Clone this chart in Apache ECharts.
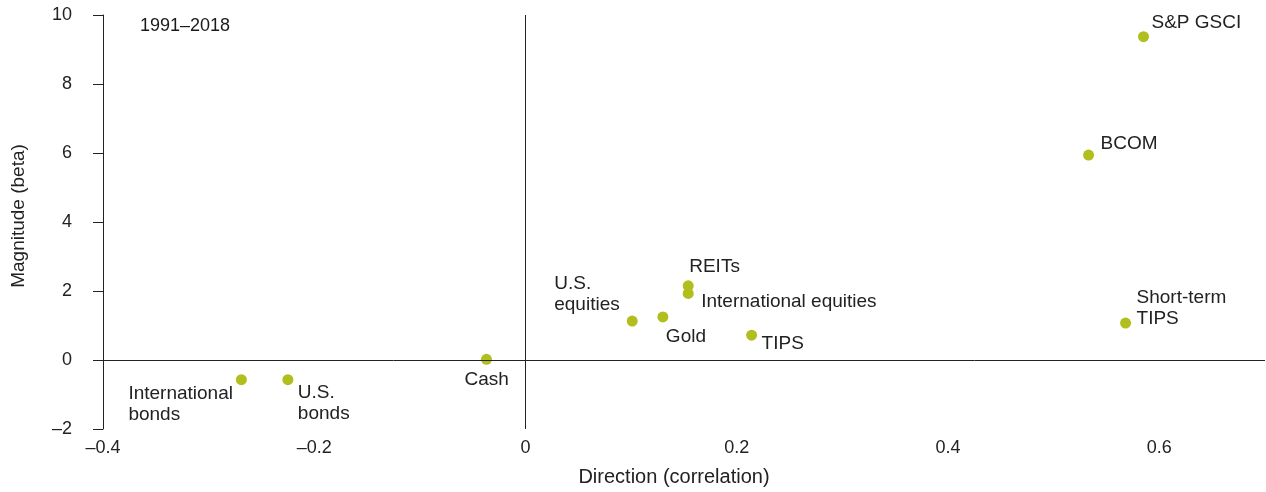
<!DOCTYPE html>
<html>
<head>
<meta charset="utf-8">
<script src="https://cdn.jsdelivr.net/npm/echarts@6/dist/echarts.min.js"></script>
<style>
html,body{margin:0;padding:0;background:#fff;}
#chart{width:1266px;height:492px;}
</style>
</head>
<body>
<div id="chart"></div>
<script>
// ---- data ----
const assetNames = ['S&P GSCI', 'BCOM', 'Short-term\nTIPS', 'REITs', 'International equities', 'U.S.\nequities', 'Gold', 'TIPS', 'Cash', 'International\nbonds', 'U.S.\nbonds'];
const correlation = [0.585, 0.533, 0.568, 0.154, 0.154, 0.101, 0.130, 0.214, -0.037, -0.269, -0.225];
const beta = [9.37, 5.94, 1.07, 2.15, 1.93, 1.13, 1.25, 0.72, 0.02, -0.57, -0.57];
const periodLabel = '1991\u20132018';
const xTicks = { min: -0.4, max: 0.7, interval: 0.2 };
const yTicks = { min: -2, max: 10, interval: 2 };

// label placement (pixel offsets from each point: [dx to text left, dy to text block centre])
const labelOffsets = [[8, -14], [12, -11], [11, -15], [1, -19], [13, 8], [-78, -27], [3, 20], [10, 9], [-22, 20], [-113, 25], [10, 24]];

const FONT = 'Liberation Sans';
const TEXT = '#222';
const fmt = v => String(+v.toFixed(2)).replace('-', '\u2013');

const points = assetNames.map((n, i) => ({
  name: n,
  value: [correlation[i], beta[i]],
  label: { offset: labelOffsets[i] }
}));

const chart = echarts.init(document.getElementById('chart'), null, { renderer: 'canvas' });
chart.setOption({
  animation: false,
  grid: { left: 103, right: 1, top: 15, bottom: 63, containLabel: false },
  xAxis: {
    type: 'value', min: xTicks.min, max: xTicks.max, interval: xTicks.interval,
    position: 'bottom',
    axisLine: { show: false, onZero: false },
    axisTick: { show: false },
    splitLine: { show: false },
    axisLabel: { color: TEXT, fontFamily: FONT, fontSize: 18, margin: 10, formatter: fmt,
      showMaxLabel: false },
    name: 'Direction (correlation)', nameLocation: 'middle', nameGap: 38,
    nameTextStyle: { color: TEXT, fontFamily: FONT, fontSize: 20, padding: [0, 20, 0, 0] }
  },
  yAxis: {
    type: 'value', min: yTicks.min, max: yTicks.max, interval: yTicks.interval,
    axisLine: { show: true, onZero: false, lineStyle: { color: '#222', width: 1 } },
    axisTick: { show: true, length: 10, lineStyle: { color: '#222', width: 1 } },
    splitLine: { show: false },
    axisLabel: { color: TEXT, fontFamily: FONT, fontSize: 18, margin: 31, formatter: fmt },
    name: 'Magnitude (beta)', nameLocation: 'middle', nameGap: 75,
    nameTextStyle: { color: TEXT, fontFamily: FONT, fontSize: 19, padding: [0, 0, 0, 12] }
  },
  graphic: [{
    type: 'text', left: 140, top: 17,
    style: { text: periodLabel, fill: '#1a1a1a', font: '18px "Liberation Sans"' }
  }],
  series: [{
    type: 'scatter',
    symbolSize: 11,
    itemStyle: { color: '#B0BE1E', opacity: 1 },
    data: points,
    label: {
      show: true, position: 'inside', align: 'left', verticalAlign: 'middle',
      formatter: p => p.name, opacity: 1,
      color: TEXT, textBorderWidth: 0, textBorderColor: 'transparent',
      fontFamily: FONT, fontSize: 19, lineHeight: 21
    },
    markLine: {
      silent: true, symbol: 'none',
      label: { show: false },
      lineStyle: { color: '#222', width: 1, type: 'solid', opacity: 1 },
      data: [{ xAxis: 0 }, { yAxis: 0 }]
    },
    z: 3
  }]
});
</script>
</body>
</html>
